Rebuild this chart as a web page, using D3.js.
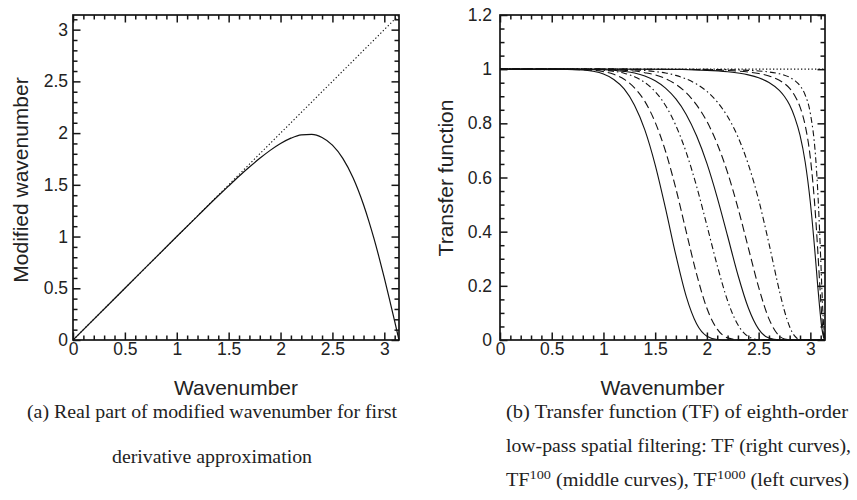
<!DOCTYPE html>
<html><head><meta charset="utf-8">
<script src="https://cdn.jsdelivr.net/npm/d3@7"></script>
<style>
body{margin:0;background:#fff;}
svg{display:block;}
</style></head>
<body><svg id="c" width="857" height="500"></svg>
<script>
// ---------- Data ----------
// (a) modified wavenumber
const waveK = [0, 0.5, 1.0, 1.2, 1.4, 1.5, 1.6, 1.7, 1.8, 1.9, 2.0, 2.1, 2.2, 2.3, 2.4, 2.5, 2.6, 2.7, 2.8, 2.85, 2.9, 2.95, 3.0, 3.05, 3.1, 3.1416];
const modifiedK = [0, 0.5, 1.0, 1.198, 1.394, 1.489, 1.583, 1.672, 1.756, 1.833, 1.899, 1.951, 1.983, 1.988, 1.958, 1.884, 1.756, 1.566, 1.307, 1.152, 0.982, 0.797, 0.600, 0.393, 0.180, 0];
const exactK = [0, 3.1416];

// (b) transfer functions: left curves TF^1000
const xLeft = [0, 0.5, 0.8, 0.9, 1.0, 1.1, 1.2, 1.3, 1.4, 1.5, 1.6, 1.7, 1.8, 1.9, 2.0, 2.1, 2.2, 2.3, 2.4, 2.5, 3.1416];
const tf1000Solid   = [1, 1, 0.997, 0.992, 0.982, 0.962, 0.927, 0.867, 0.776, 0.647, 0.486, 0.313, 0.161, 0.060, 0.014, 0.002, 0, 0, 0, 0, 0];
const tf1000Dashed  = [1, 1, 0.998, 0.996, 0.991, 0.981, 0.963, 0.931, 0.881, 0.804, 0.697, 0.559, 0.400, 0.244, 0.117, 0.040, 0.008, 0.001, 0, 0, 0];
const tf1000DashDot = [1, 1, 0.999, 0.998, 0.996, 0.992, 0.985, 0.972, 0.951, 0.917, 0.866, 0.792, 0.693, 0.568, 0.423, 0.275, 0.145, 0.056, 0.013, 0.001, 0];

// middle curves TF^100
const xMid = [0, 0.5, 1.0, 1.2, 1.3, 1.4, 1.5, 1.6, 1.7, 1.8, 1.9, 2.0, 2.1, 2.2, 2.3, 2.4, 2.5, 2.6, 2.7, 2.75, 2.8, 2.85, 2.9, 3.1416];
const tf100Solid   = [1, 1, 0.998, 0.992, 0.986, 0.975, 0.957, 0.930, 0.890, 0.833, 0.754, 0.652, 0.526, 0.384, 0.240, 0.119, 0.040, 0.007, 0.0003, 0, 0, 0, 0, 0];
const tf100Dashed  = [1, 1, 0.999, 0.996, 0.993, 0.987, 0.979, 0.965, 0.944, 0.913, 0.868, 0.807, 0.724, 0.618, 0.488, 0.341, 0.195, 0.078, 0.015, 0.004, 0.001, 0, 0, 0];
const tf100DashDot = [1, 1, 1.0, 0.998, 0.997, 0.995, 0.991, 0.986, 0.977, 0.964, 0.945, 0.918, 0.879, 0.825, 0.750, 0.649, 0.518, 0.356, 0.183, 0.107, 0.049, 0.014, 0.002, 0];

// right curves TF
const xRight = [0, 1.0, 1.5, 2.0, 2.2, 2.4, 2.5, 2.6, 2.7, 2.75, 2.8, 2.85, 2.9, 2.95, 3.0, 3.05, 3.07, 3.09, 3.1, 3.12, 3.13, 3.1416];
const tfSolid   = [1, 1, 0.9996, 0.9957, 0.9905, 0.9789, 0.9682, 0.9510, 0.9217, 0.8991, 0.8677, 0.8213, 0.7563, 0.6572, 0.5077, 0.2992, 0.2053, 0.119, 0.080, 0.023, 0.007, 0];
const tfDashed  = [1, 1, 0.9998, 0.9979, 0.9952, 0.9893, 0.9838, 0.9748, 0.9591, 0.9467, 0.9289, 0.9015, 0.8607, 0.7924, 0.6724, 0.4593, 0.3403, 0.211, 0.148, 0.044, 0.014, 0];
const tfDashDot = [1, 1, 0.9999, 0.9991, 0.9981, 0.9957, 0.9934, 0.9897, 0.9832, 0.9779, 0.9702, 0.9580, 0.9390, 0.9048, 0.8365, 0.6791, 0.5618, 0.397, 0.302, 0.112, 0.043, 0];
const tfUnity = [1, 1];
const unityX = [0, 3.1416];

// ticks
const xMajor = [0, 0.5, 1, 1.5, 2, 2.5, 3];
const xMinor = [0.1, 0.2, 0.3, 0.4, 0.6, 0.7, 0.8, 0.9, 1.1, 1.2, 1.3, 1.4, 1.6, 1.7, 1.8, 1.9, 2.1, 2.2, 2.3, 2.4, 2.6, 2.7, 2.8, 2.9, 3.1];
const yMajorA = [0, 0.5, 1, 1.5, 2, 2.5, 3];
const yMajorB = [0, 0.2, 0.4, 0.6, 0.8, 1, 1.2];
const yMinorB = [0.05, 0.1, 0.15, 0.25, 0.3, 0.35, 0.45, 0.5, 0.55, 0.65, 0.7, 0.75, 0.85, 0.9, 0.95, 1.05, 1.1, 1.15];

// ---------- Drawing ----------
const svg = d3.select("#c");
const sans = '"Liberation Sans", Arial, sans-serif';
const serif = '"Liberation Serif", "Times New Roman", serif';
const INK = "#151515";

function styleAxis(sel) {
  sel.select(".domain").remove();
  sel.selectAll(".tick line").attr("stroke", INK).attr("stroke-width", 1.5);
  sel.selectAll(".tick text").attr("fill", "#222").attr("font-family", sans).attr("font-size", 17.5);
}

function panel(cfg) {
  const x = d3.scaleLinear().domain([0, Math.PI]).range([cfg.x0, cfg.x1]);
  const y = d3.scaleLinear().domain([0, cfg.ymax]).range([340, 15]);
  const g = svg.append("g");
  const fmt = d => String(d);
  const MIN = -4.5, MAJ = -7.5;
  const ax = (tr, axis) => g.append("g").attr("transform", tr).call(axis).call(styleAxis);
  ax("translate(0,340)", d3.axisBottom(x).tickValues(xMinor).tickSize(MIN).tickFormat(""));
  ax("translate(0,340)", d3.axisBottom(x).tickValues(xMajor).tickSize(MAJ).tickPadding(3).tickFormat(fmt));
  ax("translate(0,15)", d3.axisTop(x).tickValues(xMinor).tickSize(MIN).tickFormat(""));
  ax("translate(0,15)", d3.axisTop(x).tickValues(xMajor).tickSize(MAJ).tickFormat(""));
  ax(`translate(${cfg.x0},0)`, d3.axisLeft(y).tickValues(cfg.yMinor).tickSize(MIN).tickFormat(""));
  ax(`translate(${cfg.x0},0)`, d3.axisLeft(y).tickValues(cfg.yMajor).tickSize(MAJ).tickPadding(cfg.pad).tickFormat(fmt));
  ax(`translate(${cfg.x1},0)`, d3.axisRight(y).tickValues(cfg.yMinor).tickSize(MIN).tickFormat(""));
  ax(`translate(${cfg.x1},0)`, d3.axisRight(y).tickValues(cfg.yMajor).tickSize(MAJ).tickFormat(""));
  g.append("rect").attr("x", cfg.x0).attr("y", 15).attr("width", cfg.x1 - cfg.x0).attr("height", 325)
    .attr("fill", "none").attr("stroke", INK).attr("stroke-width", 1.7);
  const clip = "clip" + cfg.id;
  svg.append("clipPath").attr("id", clip).append("rect")
    .attr("x", cfg.x0).attr("y", 13).attr("width", cfg.x1 - cfg.x0 + 1).attr("height", 328);
  const curves = g.append("g").attr("clip-path", `url(#${clip})`);
  return {x, y, g, curves};
}

function draw(p, xs, ys, dash, width) {
  const line = d3.line().x((d, i) => p.x(xs[i])).y(d => p.y(d)).curve(d3.curveMonotoneX);
  p.curves.append("path").datum(ys).attr("d", line)
    .attr("fill", "none").attr("stroke", "#111").attr("stroke-width", width || 1.1)
    .attr("stroke-dasharray", dash || null);
}

// Panel (a)
const A = panel({id: "a", x0: 73, x1: 399, ymax: Math.PI, yMajor: yMajorA, yMinor: xMinor, pad: 5});
draw(A, exactK, exactK, "1.3,2.2", 1.1);
draw(A, waveK, modifiedK, null, 1.2);

// Panel (b)
const B = panel({id: "b", x0: 500, x1: 825, ymax: 1.2, yMajor: yMajorB, yMinor: yMinorB, pad: 8});
draw(B, unityX, tfUnity, "1.3,2.2", 1.1);
const DASH = "8,4", DASHDOT = "6,3,1.5,3";
draw(B, xLeft, tf1000Solid, null);
draw(B, xLeft, tf1000Dashed, DASH);
draw(B, xLeft, tf1000DashDot, DASHDOT);
draw(B, xMid, tf100Solid, null);
draw(B, xMid, tf100Dashed, DASH);
draw(B, xMid, tf100DashDot, DASHDOT);
draw(B, xRight, tfSolid, null);
draw(B, xRight, tfDashed, DASH);
draw(B, xRight, tfDashDot, DASHDOT);

// Axis titles
svg.append("text").attr("transform", "translate(27.5,180) rotate(-90)").attr("text-anchor", "middle")
  .attr("font-family", sans).attr("font-size", 21).attr("fill", "#222").text("Modified wavenumber");
svg.append("text").attr("transform", "translate(453,178) rotate(-90)").attr("text-anchor", "middle")
  .attr("font-family", sans).attr("font-size", 21).attr("fill", "#222").text("Transfer function");
svg.append("text").attr("x", 236).attr("y", 395).attr("text-anchor", "middle")
  .attr("font-family", sans).attr("font-size", 21).attr("fill", "#222").text("Wavenumber");
svg.append("text").attr("x", 662.5).attr("y", 395).attr("text-anchor", "middle")
  .attr("font-family", sans).attr("font-size", 21).attr("fill", "#222").text("Wavenumber");

// Captions
function cap(x, y, w, txt) {
  return svg.append("text").attr("x", x).attr("y", y)
    .attr("font-family", serif).attr("font-size", 18.5).attr("fill", "#222")
    .attr("textLength", w).attr("lengthAdjust", "spacingAndGlyphs").text(txt);
}
cap(27, 418, 370, "(a) Real part of modified wavenumber for first");
cap(112, 463, 200, "derivative approximation");
cap(506, 418, 342, "(b) Transfer function (TF) of eighth-order");
cap(506, 452, 345, "low-pass spatial filtering: TF (right curves),");
const t3 = svg.append("text").attr("x", 506).attr("y", 486)
  .attr("font-family", serif).attr("font-size", 18.5).attr("fill", "#222")
  .attr("textLength", 343).attr("lengthAdjust", "spacingAndGlyphs");
t3.append("tspan").text("TF");
t3.append("tspan").attr("font-size", 13).attr("dy", -7).text("100");
t3.append("tspan").attr("dy", 7).text(" (middle curves), TF");
t3.append("tspan").attr("font-size", 13).attr("dy", -7).text("1000");
t3.append("tspan").attr("dy", 7).text(" (left curves)");
</script></body></html>
